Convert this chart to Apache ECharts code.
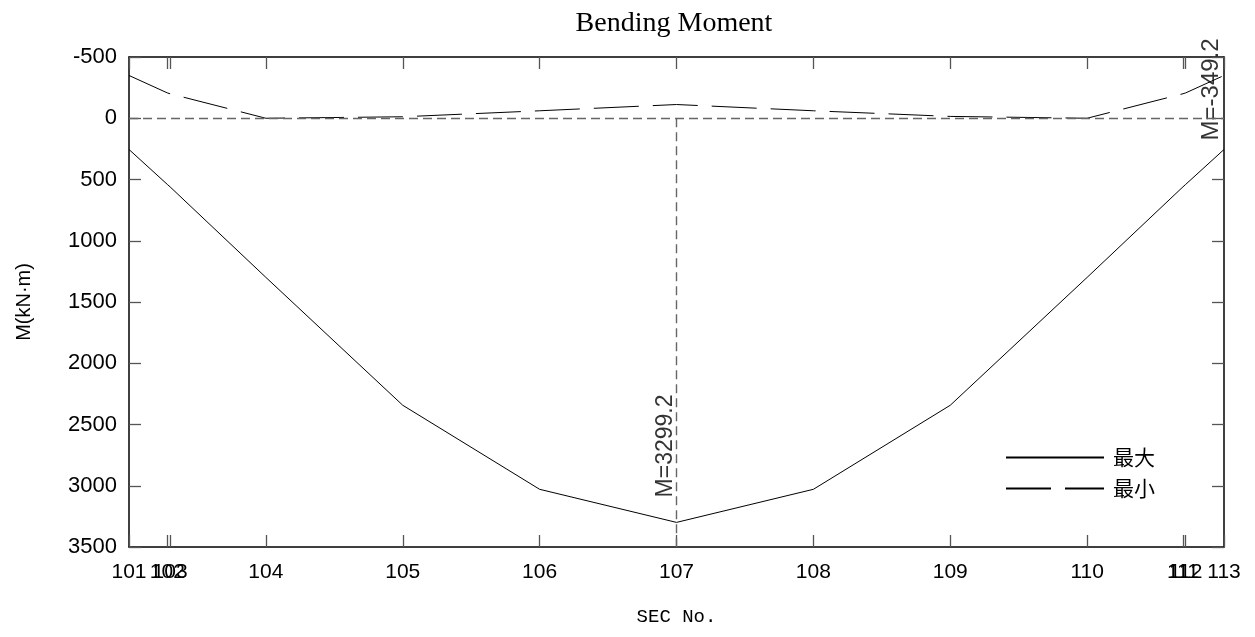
<!DOCTYPE html>
<html><head><meta charset="utf-8">
<script src="https://cdn.jsdelivr.net/npm/echarts@6/dist/echarts.min.js"></script>
<style>html,body{margin:0;padding:0;background:#fff}#c{width:1255px;height:637px}</style>
</head><body><div id="c"></div>
<script>
// ---- data ----
const sections   = ['101','102','103','104','105','106','107','108','109','110','111','112','113'];
const positions  = [0, 1.4, 1.5, 5, 10, 15, 20, 25, 30, 35, 38.5, 38.6, 40];
const maxMoment  = [255, 540, 560, 1299, 2343, 3029, 3299.2, 3029, 2343, 1299, 560, 540, 255];
const minMoment  = [-349.2, -207, -200, 0, -12, -61, -112, -61, -15, 0, -200, -207, -349.2];
const seriesNames = ['最大', '最小'];
const yMin = -500, yMax = 3500, yStep = 500;

// ---- build ----
const numFont = "'Liberation Sans',Arial,sans-serif";
const toPairs = vals => positions.map((x, i) => [x, vals[i]]);
const secLabel = v => {
  let best = 0;
  positions.forEach((p, i) => { if (Math.abs(p - v) < Math.abs(positions[best] - v)) best = i; });
  return sections[best];
};
const iMax = maxMoment.indexOf(Math.max(...maxMoment));
const minVal = Math.min(...minMoment);
const iMin = minMoment.lastIndexOf(minVal);

const xBase = {
  type: 'value', min: positions[0], max: positions[positions.length - 1],
  axisLine: { onZero: false, lineStyle: { color: '#000', width: 1.5 } },
  axisTick: { inside: true, length: 12, customValues: positions, lineStyle: { color: '#555', width: 1.3 } },
  splitLine: { show: false }
};
const yBase = {
  type: 'value', inverse: true, min: yMin, max: yMax, interval: yStep,
  axisLine: { show: true, onZero: false, lineStyle: { color: '#000', width: 1.5 } },
  axisTick: { show: true, inside: true, length: 12, lineStyle: { color: '#555', width: 1.3 } },
  splitLine: { show: false }
};

const chart = echarts.init(document.getElementById('c'), null, { renderer: 'canvas' });
chart.setOption({
  animation: false,
  backgroundColor: '#fff',
  title: {
    text: 'Bending Moment', left: 669, textAlign: 'center', top: 5,
    textStyle: { fontFamily: "'Liberation Serif','Times New Roman',serif", fontSize: 28, fontWeight: 'normal', color: '#000' }
  },
  grid: { left: 129, right: 31, top: 57, bottom: 90, containLabel: false },
  legend: {
    data: seriesNames, orient: 'vertical', left: 1000, top: 442,
    itemWidth: 98, itemHeight: 14, itemGap: 10,
    itemStyle: { opacity: 0 },
    textStyle: { fontFamily: "'Noto Sans CJK SC',sans-serif", fontSize: 21, color: '#000', padding: [0, 0, 0, 4] }
  },
  xAxis: [
    Object.assign({}, xBase, {
      position: 'bottom',
      axisLabel: { customValues: positions, formatter: secLabel, fontFamily: numFont, fontSize: 21, color: '#000', margin: 15 },
      name: 'SEC No.', nameLocation: 'middle', nameGap: 60,
      nameTextStyle: { fontFamily: "'Liberation Mono','DejaVu Sans Mono',monospace", fontSize: 19, color: '#000' }
    }),
    Object.assign({}, xBase, { position: 'top', axisLabel: { show: false } })
  ],
  yAxis: [
    Object.assign({}, yBase, {
      position: 'left',
      axisLabel: { fontFamily: numFont, fontSize: 22, color: '#000', margin: 12, formatter: v => String(v) },
      name: 'M(kN·m)', nameLocation: 'middle', nameGap: 95,
      nameTextStyle: { fontFamily: "'Liberation Sans',Arial,sans-serif", fontSize: 20, color: '#000' }
    }),
    Object.assign({}, yBase, { position: 'right', axisLabel: { show: false } })
  ],
  series: [
    {
      name: seriesNames[0], type: 'line', data: toPairs(maxMoment),
      symbol: 'none', showSymbol: false, color: '#000',
      lineStyle: { color: '#000', width: 1 },
      markLine: {
        silent: true, symbol: 'none', label: { show: false }, animation: false,
        data: [
          { yAxis: 0, lineStyle: { type: [9, 5], color: '#666', width: 1.4 } },
          [ { coord: [positions[iMax], 0], lineStyle: { type: [9, 5], color: '#666', width: 1.4 } },
            { coord: [positions[iMax], yMax] } ]
        ]
      }
    },
    {
      name: seriesNames[1], type: 'line', data: toPairs(minMoment),
      symbol: 'none', showSymbol: false, color: '#000',
      lineStyle: { color: '#000', width: 1, type: [45, 14] }
    },
    {
      name: 'annotation', type: 'scatter', silent: true,
      symbolSize: 0.01, itemStyle: { color: 'rgba(0,0,0,0)' },
      data: [
        { value: [positions[iMax], maxMoment[iMax]],
          label: { show: true, formatter: 'M=' + maxMoment[iMax].toFixed(1), position: [1, -25],
                   rotate: 90, align: 'left', verticalAlign: 'bottom',
                   fontFamily: numFont, fontSize: 23, color: '#000' } },
        { value: [positions[iMin], minVal],
          label: { show: true, formatter: 'M=' + minVal.toFixed(1), position: [-1, 65],
                   rotate: 90, align: 'left', verticalAlign: 'bottom',
                   fontFamily: numFont, fontSize: 24, color: '#000' } }
      ]
    }
  ]
});
</script>
</body></html>
